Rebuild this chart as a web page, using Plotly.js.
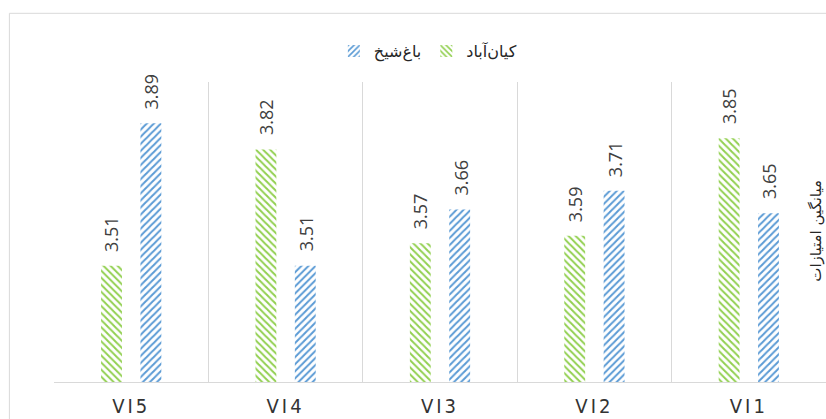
<!DOCTYPE html>
<html>
<head>
<meta charset="utf-8">
<script src="https://cdn.plot.ly/plotly-3.0.1.min.js"></script>
<style>
html,body{margin:0;padding:0;background:#fff;}
#chart{width:826px;height:419px;}
.xtick text{letter-spacing:3px;}
</style>
</head>
<body>
<div id="chart"></div>
<script>
const categories = ['VI5', 'VI4', 'VI3', 'VI2', 'VI1'];
const kianAbad = [3.51, 3.82, 3.57, 3.59, 3.85];
const baghSheikh = [3.89, 3.51, 3.66, 3.71, 3.65];
const seriesNames = ['کیان‌آباد', 'باغ‌شیخ'];
const yTitle = 'میانگین امتیازات';

const green = '#92d050';
const blue = '#5b9bd5';

const traces = [
  {
    type: 'bar', name: seriesNames[0], x: categories, y: kianAbad,
    marker: {color: '#ffffff', line: {width: 0},
      pattern: {shape: '\\', fgcolor: green, bgcolor: '#ffffff', size: 5, solidity: 0.4}},
    hoverinfo: 'skip'
  },
  {
    type: 'bar', name: seriesNames[1], x: categories, y: baghSheikh,
    marker: {color: '#ffffff', line: {width: 0},
      pattern: {shape: '/', fgcolor: blue, bgcolor: '#ffffff', size: 5, solidity: 0.4}},
    hoverinfo: 'skip'
  }
];

const labelFont = {family: 'Open Sans', size: 18, color: '#404040'};
const annotations = [];
categories.forEach((c, i) => {
  annotations.push({x: c, y: kianAbad[i], xref: 'x', yref: 'y', text: kianAbad[i].toFixed(2),
    textangle: -90, showarrow: false, xanchor: 'center', yanchor: 'bottom', xshift: -20, yshift: 12, font: labelFont});
  annotations.push({x: c, y: baghSheikh[i], xref: 'x', yref: 'y', text: baghSheikh[i].toFixed(2),
    textangle: -90, showarrow: false, xanchor: 'center', yanchor: 'bottom', xshift: 20, yshift: 12, font: labelFont});
});
annotations.push({xref: 'paper', yref: 'paper', x: 0.986, y: 0.505, text: yTitle, textangle: -90,
  showarrow: false, xanchor: 'center', yanchor: 'middle', borderpad: 0,
  font: {family: 'DejaVu Sans', size: 15, color: '#262626'}});

const layout = {
  width: 826, height: 419,
  margin: {l: 54, r: 0, t: 82, b: 37},
  paper_bgcolor: '#ffffff', plot_bgcolor: '#ffffff',
  barmode: 'group', bargap: 0.49, bargroupgap: 0.47,
  showlegend: true,
  legend: {orientation: 'h', traceorder: 'reversed', x: 0.518, xanchor: 'center', xref: 'container',
    y: 0.878, yanchor: 'middle', yref: 'container',
    font: {family: 'DejaVu Sans', size: 16, color: '#262626'}, itemwidth: 30, bgcolor: 'rgba(0,0,0,0)'},
  xaxis: {type: 'category', tickson: 'boundaries', showgrid: true, gridcolor: '#d9d9d9', gridwidth: 1,
    showline: true, linecolor: '#d9d9d9', linewidth: 1, ticks: '', ticklen: 0, ticklabelstandoff: 6,
    tickfont: {family: 'Liberation Sans Narrow, DejaVu Sans Condensed', size: 20, color: '#333333'}, fixedrange: true},
  yaxis: {range: [3.2, 4.0], showgrid: false, zeroline: false, showticklabels: false, ticks: '', showline: false, fixedrange: true},
  annotations: annotations,
  shapes: [
    {type: 'rect', xref: 'paper', yref: 'paper', x0: -0.0578, x1: 1.02, y0: -0.3, y1: 1.229,
      line: {color: '#d9d9d9', width: 1}, fillcolor: 'rgba(0,0,0,0)', layer: 'below'}
  ]
};

Plotly.newPlot('chart', traces, layout, {displayModeBar: false, staticPlot: true});
</script>
</body>
</html>
